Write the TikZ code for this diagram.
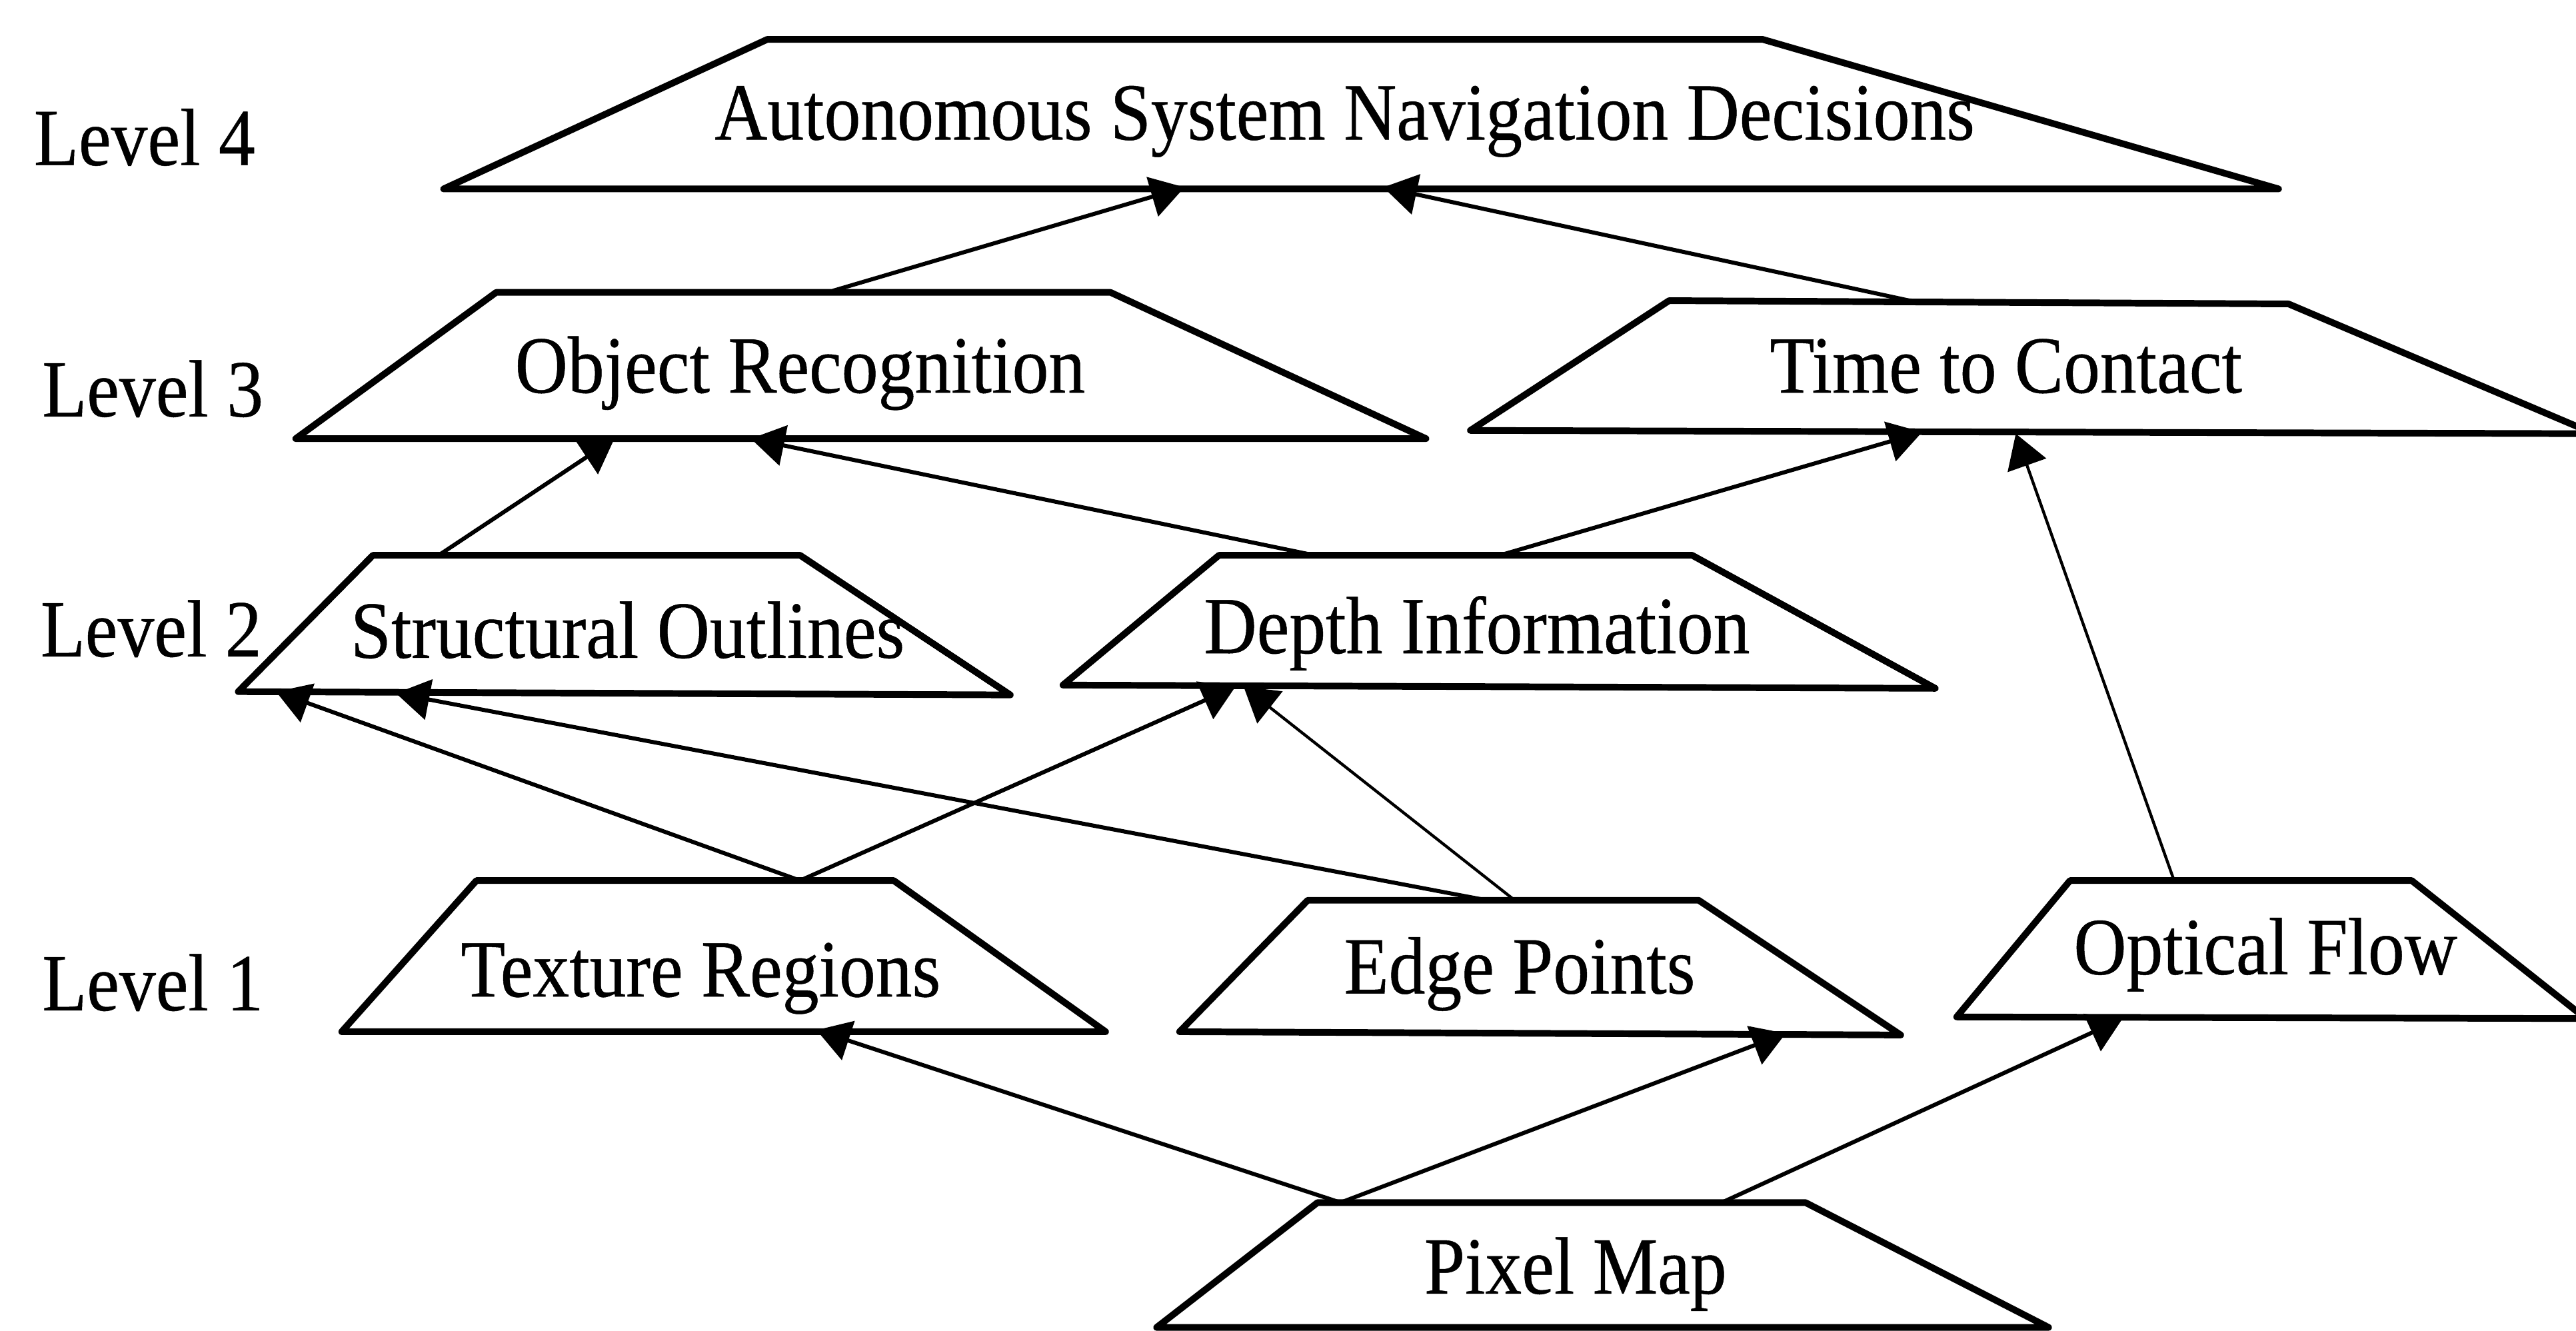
\documentclass[tikz,border=0pt]{standalone}
\usepackage{fontspec}
\setmainfont{Liberation Serif}[FakeStretch=0.9, FakeBold=0.4]
\usetikzlibrary{arrows.meta}

\tikzset{
  layer/.style={line width=1.15pt, line join=round},
  conn/.style={line width=0.7pt, -{Triangle[length=5.8pt,width=7pt]}},
  thinconn/.style={conn, line width=0.5pt},
  lbl/.style={inner sep=0pt, anchor=base, font=\fontsize{14.05}{16}\selectfont},
  lvl/.style={lbl, anchor=base west},
}

% trapezoid with named corners: name, top-left, top-right, bottom-right, bottom-left
\newcommand\layerbox[5]{%
  \coordinate (#1-tl) at (#2);
  \coordinate (#1-tr) at (#3);
  \coordinate (#1-br) at (#4);
  \coordinate (#1-bl) at (#5);
  \draw[layer] (#1-tl) -- (#1-tr) -- (#1-br) -- (#1-bl) -- cycle;}

\begin{document}
\begin{tikzpicture}[x=0.01cm,y=-0.01cm]
\useasboundingbox (0,0) rectangle (1568,810);

% level captions
\node[lvl] (lv4) at (20,100.5) {Level 4};
\node[lvl] (lv3) at (25,253.5) {Level 3};
\node[lvl] (lv2) at (24,399.6) {Level 2};
\node[lvl] (lv1) at (25,615) {Level 1};

% processing stages
\layerbox{nav}{467,24}{1073,24}{1387,115}{270,115}
\node[lbl] (navt) at (818.5,85) {Autonomous System Navigation Decisions};

\layerbox{obj}{302,178}{676,178}{868,267}{180,267}
\node[lbl] (objt) at (487,239) {Object Recognition};

\layerbox{ttc}{1016,183}{1393,185}{1579,264}{895,262}
\node[lbl] (ttct) at (1221,239) {Time to Contact};

\layerbox{str}{227,338}{487,338}{615,423}{145,421}
\node[lbl] (strt) at (382,400.4) {Structural Outlines};

\layerbox{dep}{742,338}{1030,338}{1178,419}{647,417}
\node[lbl] (dept) at (899,397.6) {Depth Information};

\layerbox{tex}{290,536}{544,536}{673,628}{208,628}
\node[lbl] (text) at (426.5,606.6) {Texture Regions};

\layerbox{edg}{796,548}{1034,548}{1157,630}{718,628}
\node[lbl] (edgt) at (925,604.7) {Edge Points};

\layerbox{opt}{1260,536}{1468,536}{1574,620}{1191,619}
\node[lbl] (optt) at (1379,593) {Optical Flow};

\layerbox{pix}{802,732}{1099,732}{1247,808}{704,808}
\node[lbl] (pixt) at (959,787.4) {Pixel Map};

% attachment points on the stage outlines
\coordinate (nav-a) at (721,114);
\coordinate (nav-b) at (842,114);
\coordinate (obj-up) at (507,177);
\coordinate (obj-a) at (374,267);
\coordinate (obj-b) at (457,267);
\coordinate (ttc-up) at (1167,184);
\coordinate (ttc-a) at (1170,263);
\coordinate (ttc-b) at (1227,264);
\coordinate (str-up) at (267,338);
\coordinate (str-a) at (168,421);
\coordinate (str-b) at (241,422);
\coordinate (dep-upa) at (800,338);
\coordinate (dep-upb) at (913,338);
\coordinate (dep-a) at (752,418);
\coordinate (dep-b) at (757,418);
\coordinate (tex-up) at (487,536);
\coordinate (tex-in) at (497,627);
\coordinate (edg-upa) at (905,548);
\coordinate (edg-upb) at (922,548);
\coordinate (edg-in) at (1087,629);
\coordinate (opt-up) at (1323,535);
\coordinate (opt-in) at (1292,620);
\coordinate (pix-upa) at (816,732);
\coordinate (pix-upb) at (1048,732);

% data flow
\draw[conn] (obj-up) -- (nav-a);
\draw[conn] (ttc-up) -- (nav-b);
\draw[conn] (str-up) -- (obj-a);
\draw[conn] (dep-upa) -- (obj-b);
\draw[conn] (dep-upb) -- (ttc-a);
\draw[thinconn] (opt-up) -- (ttc-b);
\draw[conn] (tex-up) -- (str-a);
\draw[conn] (tex-up) -- (dep-a);
\draw[conn] (edg-upa) -- (str-b);
\draw[thinconn] (edg-upb) -- (dep-b);
\draw[conn] (pix-upa) -- (tex-in);
\draw[conn] (pix-upa) -- (edg-in);
\draw[conn] (pix-upb) -- (opt-in);
\end{tikzpicture}
\end{document}
